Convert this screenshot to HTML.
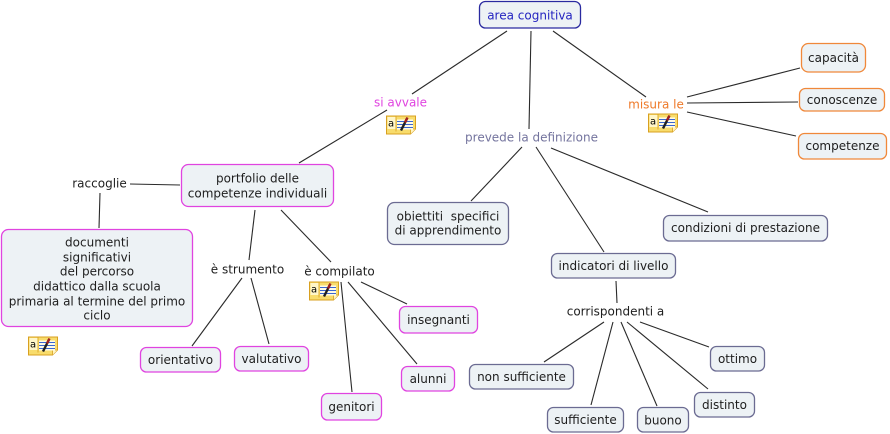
<!DOCTYPE html>
<html>
<head>
<meta charset="utf-8">
<style>
html,body{margin:0;padding:0;background:#fff;}
svg{display:block;}
text{font-family:"DejaVu Sans","Liberation Sans",sans-serif;font-size:12px;fill:#1e1e1e;}
.b{fill:#edf2f5;stroke-width:1.3;}
.m{stroke:#e044e0;}
.s{stroke:#6b6b92;}
.o{stroke:#f0883a;}
.l{stroke:#2a2a2a;stroke-width:1.1;fill:none;}
</style>
</head>
<body>
<svg width="890" height="434" viewBox="0 0 890 434" xmlns="http://www.w3.org/2000/svg">
<defs>
<g id="ic">
  <path d="M0.5,0.5 H29.5 V13.5 L24.5,18.5 H0.5 Z" fill="#f8dc6c" stroke="#d8a020" stroke-width="1"/>
  <path d="M24.5,18.5 V13.5 H29.5" fill="#fff4c0" stroke="#d8a020" stroke-width="0.8"/>
  <rect x="1.5" y="1.5" width="8" height="12" fill="#fff6c8"/>
  <line x1="10" y1="1" x2="10" y2="16" stroke="#d8a020" stroke-width="0.8"/>
  <rect x="11" y="4" width="16" height="10" fill="#fffbe6"/>
  <line x1="11" y1="6" x2="27" y2="6" stroke="#3a66d0" stroke-width="1"/>
  <line x1="11" y1="9" x2="27" y2="9" stroke="#3a66d0" stroke-width="1"/>
  <line x1="11" y1="12" x2="27" y2="12" stroke="#3a66d0" stroke-width="1"/>
  <line x1="15" y1="15" x2="21" y2="3" stroke="#202020" stroke-width="2.4"/>
  <line x1="19" y1="7" x2="21.5" y2="2" stroke="#a02020" stroke-width="2.4"/>
</g>
</defs>

<!-- connectors -->
<line class="l" x1="507" y1="31" x2="412" y2="94"/>
<line class="l" x1="387" y1="110" x2="299" y2="163"/>
<line class="l" x1="531" y1="31" x2="529" y2="129"/>
<line class="l" x1="553" y1="31" x2="646" y2="97"/>
<line class="l" x1="687" y1="97" x2="800" y2="68"/>
<line class="l" x1="687" y1="103" x2="798" y2="102"/>
<line class="l" x1="687" y1="112" x2="796" y2="136"/>
<line class="l" x1="522" y1="147" x2="471" y2="201"/>
<line class="l" x1="536" y1="147" x2="604" y2="252"/>
<line class="l" x1="551" y1="148" x2="708" y2="212"/>
<line class="l" x1="616" y1="281" x2="617" y2="303"/>
<line class="l" x1="604" y1="322" x2="544" y2="362"/>
<line class="l" x1="613" y1="322" x2="591" y2="405"/>
<line class="l" x1="621" y1="322" x2="657" y2="406"/>
<line class="l" x1="627" y1="322" x2="708" y2="389"/>
<line class="l" x1="640" y1="322" x2="709" y2="347"/>
<line class="l" x1="130" y1="184" x2="180" y2="185"/>
<line class="l" x1="100" y1="193" x2="99" y2="228"/>
<line class="l" x1="255" y1="210" x2="249" y2="260"/>
<line class="l" x1="281" y1="210" x2="331" y2="262"/>
<line class="l" x1="242" y1="278" x2="192" y2="346"/>
<line class="l" x1="251" y1="278" x2="269" y2="344"/>
<line class="l" x1="341" y1="282" x2="352" y2="392"/>
<line class="l" x1="348" y1="282" x2="417" y2="364"/>
<line class="l" x1="361" y1="282" x2="407" y2="304"/>

<!-- boxes -->
<rect class="b" x="479.5" y="1.5" width="101" height="26.5" rx="6" stroke="#2a2aa0"/>
<text x="530" y="19.5" text-anchor="middle" style="fill:#2424c0">area cognitiva</text>

<rect class="b m" x="181.5" y="164.5" width="152" height="42" rx="7"/>
<text x="257.5" y="182.5" text-anchor="middle">portfolio delle</text>
<text x="257.5" y="197.5" text-anchor="middle">competenze individuali</text>

<rect class="b m" x="1.5" y="229.5" width="191" height="97" rx="7"/>
<text x="97" y="246.5" text-anchor="middle">documenti</text>
<text x="97" y="261.5" text-anchor="middle">significativi</text>
<text x="97" y="275.5" text-anchor="middle">del percorso</text>
<text x="97" y="290.5" text-anchor="middle">didattico dalla scuola</text>
<text x="97" y="305.5" text-anchor="middle">primaria al termine del primo</text>
<text x="97" y="319.5" text-anchor="middle">ciclo</text>

<rect class="b m" x="140.5" y="347.5" width="80" height="24.5" rx="6"/>
<text x="180.5" y="364" text-anchor="middle">orientativo</text>

<rect class="b m" x="234.5" y="346.5" width="74" height="24.5" rx="6"/>
<text x="271.5" y="363" text-anchor="middle">valutativo</text>

<rect class="b m" x="321.5" y="393.5" width="60" height="26.5" rx="6"/>
<text x="351.5" y="411" text-anchor="middle">genitori</text>

<rect class="b m" x="401.5" y="366.5" width="53" height="24.5" rx="6"/>
<text x="428" y="383" text-anchor="middle">alunni</text>

<rect class="b m" x="399.5" y="306.5" width="78" height="26.5" rx="6"/>
<text x="438.5" y="324" text-anchor="middle">insegnanti</text>

<rect class="b s" x="387.5" y="202.5" width="121" height="42" rx="7"/>
<text x="448" y="220.5" text-anchor="middle" xml:space="preserve">obiettiti  specifici</text>
<text x="448" y="234.5" text-anchor="middle">di apprendimento</text>

<rect class="b s" x="663.5" y="215.5" width="164" height="25.5" rx="6"/>
<text x="745.5" y="232" text-anchor="middle">condizioni di prestazione</text>

<rect class="b s" x="551.5" y="253.5" width="124" height="24.5" rx="6"/>
<text x="613.5" y="270" text-anchor="middle">indicatori di livello</text>

<rect class="b s" x="469.5" y="364.5" width="104" height="24.5" rx="6"/>
<text x="521.5" y="381" text-anchor="middle">non sufficiente</text>

<rect class="b s" x="547.5" y="407.5" width="76" height="24.5" rx="6"/>
<text x="585.5" y="424" text-anchor="middle">sufficiente</text>

<rect class="b s" x="637.5" y="407.5" width="51" height="24.5" rx="6"/>
<text x="663" y="424.5" text-anchor="middle">buono</text>

<rect class="b s" x="694.5" y="392.5" width="60" height="24.5" rx="6"/>
<text x="724.5" y="409" text-anchor="middle">distinto</text>

<rect class="b s" x="710.5" y="346.5" width="54" height="24.5" rx="6"/>
<text x="737.5" y="363" text-anchor="middle">ottimo</text>

<rect class="b o" x="801.5" y="43.5" width="64" height="28.5" rx="7"/>
<text x="833.5" y="62" text-anchor="middle">capacità</text>

<rect class="b o" x="799.5" y="88.5" width="85" height="22.5" rx="6"/>
<text x="842" y="104" text-anchor="middle">conoscenze</text>

<rect class="b o" x="798.5" y="133.5" width="88" height="25.5" rx="6"/>
<text x="842.5" y="150" text-anchor="middle">competenze</text>

<!-- linking phrases -->
<text x="400.5" y="106.5" text-anchor="middle" style="fill:#e044e0">si avvale</text>
<text x="99.5" y="187.5" text-anchor="middle">raccoglie</text>
<text x="247.5" y="273.5" text-anchor="middle">è strumento</text>
<text x="339.5" y="275.5" text-anchor="middle">è compilato</text>
<text x="531.5" y="141.5" text-anchor="middle" style="fill:#74749e">prevede la definizione</text>
<text x="656" y="108.5" text-anchor="middle" style="fill:#ee7a2a">misura le</text>
<text x="615.5" y="315.5" text-anchor="middle">corrispondenti a</text>

<!-- note icons -->
<g transform="translate(386,115.5)"><use href="#ic"/><text x="2" y="11" style="font-size:10px;fill:#000">a</text></g>
<g transform="translate(648,113.5)"><use href="#ic"/><text x="2" y="11" style="font-size:10px;fill:#000">a</text></g>
<g transform="translate(309,281.5)"><use href="#ic"/><text x="2" y="11" style="font-size:10px;fill:#000">a</text></g>
<g transform="translate(28,336.5)"><use href="#ic"/><text x="2" y="11" style="font-size:10px;fill:#000">a</text></g>
</svg>
</body>
</html>
